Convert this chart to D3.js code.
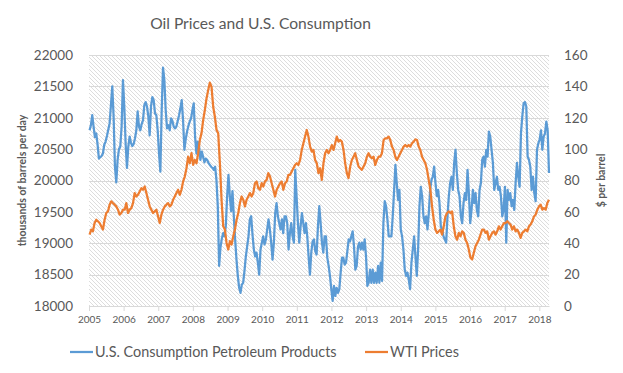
<!DOCTYPE html>
<html>
<head>
<meta charset="utf-8">
<script src="https://cdn.jsdelivr.net/npm/d3@7"></script>
<style>
  body { margin: 0; background: #fff; }
  svg text { font-family: Lato, "Liberation Sans", sans-serif; fill: #595959; }
</style>
</head>
<body>
<div id="chart"></div>
<script>
const yearLabels = d3.range(2005, 2019);
const leftTicks = d3.range(18000, 22001, 500);
const rightTicks = d3.range(0, 161, 20);

// U.S. consumption of petroleum products, thousand barrels per day
const consumption = [
  20800,20880,21040,20860,20690,20750,20570,20350,20370,20390,
  20430,20570,20620,20710,20810,20910,21200,21500,21020,20220,
  19970,20330,20500,20540,20860,21600,21180,20590,20200,20540,
  20700,20600,20550,20580,20670,20800,21100,20860,20800,20900,
  20960,21200,21250,21180,21020,20720,21180,21330,21280,21070,
  21040,20800,20430,20140,21120,21800,21600,21120,20830,20880,
  20800,20990,20950,20860,20830,20860,20950,21040,21150,21280,
  20960,20490,20660,20780,20870,20940,20990,21120,21230,20700,
  20430,20620,20540,20330,20460,20380,20290,20350,20330,20280,
  20250,20220,20200,20170,20220,20010,19590,18640,18930,19070,
  19160,19110,19270,19750,20090,19750,19510,19830,19430,19060,
  18740,18480,18290,18210,18340,18370,18560,18790,18950,19110,
  19380,19430,19140,18900,18790,18850,18690,18500,18900,19010,
  19110,18980,19060,19220,19380,19220,19010,18740,19010,19480,
  19640,19430,19320,19220,19380,19160,19430,19430,19320,18900,
  19160,19320,19110,19010,20170,19750,19320,19010,19270,19480,
  19320,19160,19320,19110,18790,18500,18850,19030,19060,18870,
  18820,19270,19590,19320,
  19010,18850,19110,19110,18770,18640,18480,18270,18080,18320,
  18160,18290,18210,18270,18530,18770,18770,18660,18690,18870,
  19060,19030,19110,19190,18950,18580,18640,18950,19010,18900,
  19010,18900,19060,18790,18320,18370,18580,18370,18580,18370,
  18530,18370,18640,18370,18690,18400,19320,19670,19590,19380,
  19110,19110,19110,19430,19830,20250,19960,19690,19850,19220,
  19110,18900,18580,18480,18530,18420,18270,18690,18900,19110,
  18790,18480,18900,19590,19900,19750,19430,19320,19430,19220,
  19480,19850,20010,20060,20220,19960,19750,19850,19640,19270,
  19220,19110,19060,19010,19430,19750,19960,20060,19850,20280,
  20490,20120,19850,19750,19430,19320,19640,19800,19690,20170,
  19800,19320,19530,19850,19640,19800,19530,19430,19850,19960,
  20330,20380,20220,20490,20380,20780,20700,20490,20280,19850,
  19960,20060,19850,19900,19750,19430,19530,19900,19010,19850,
  19690,19800,19590,19690,19530,19960,20280,20060,19900,20750,
  21020,21230,21250,21180,20380,20330,20220,19850,20060,19800,
  19670,20490,20590,20650,20800,20490,20700,20750,20940,20800,
  20120
];

// WTI spot price, $ per barrel
const wti = [
  45.5,48.7,47.6,52.9,55.0,54.0,52.9,50.8,48.7,55.0,
  59.3,60.3,64.6,66.7,65.6,64.6,63.5,61.4,58.2,59.3,
  61.4,61.4,65.6,59.3,61.4,62.4,65.6,72.0,69.8,70.9,
  73.0,75.1,74.1,76.2,72.0,67.7,63.5,61.4,59.3,60.3,
  61.4,57.1,52.9,58.2,61.4,63.5,64.6,65.6,63.5,64.6,
  67.7,69.8,72.0,74.1,70.9,74.1,79.4,82.5,87.8,95.2,
  91.0,97.4,90.0,93.1,91.0,97.4,105.8,110.1,118.5,124.9,
  132.3,137.6,142.4,139.7,127.0,120.6,112.2,110.1,91.0,67.7,
  50.8,48.7,40.2,36.0,41.3,39.2,44.4,48.7,55.0,59.3,
  65.6,69.8,67.7,63.5,67.7,69.8,72.0,69.8,72.0,78.3,
  79.4,75.1,74.1,78.3,76.2,79.4,80.4,84.7,82.5,78.3,
  74.1,69.8,74.1,76.2,78.3,79.4,74.1,78.3,79.4,83.6,
  83.6,85.7,87.8,89.9,91.0,89.9,93.1,99.5,103.7,108.0,
  112.2,108.0,101.6,98.4,99.5,93.1,91.0,84.7,87.8,
  80.4,91.0,97.4,99.5,97.4,99.5,102.6,99.5,103.7,108.0,
  104.8,105.8,104.8,99.5,91.0,84.7,81.5,88.9,93.1,95.2,
  97.4,93.1,88.9,87.8,86.8,88.9,91.0,95.2,97.4,95.2,
  94.2,95.2,89.9,93.1,95.2,95.2,97.4,105.8,106.9,106.9,
  108.0,105.8,101.6,99.5,95.2,93.1,95.2,97.4,99.5,101.6,
  102.6,101.6,102.6,101.6,103.7,104.8,106.2,105.8,101.6,99.5,
  95.2,93.1,91.0,86.8,80.4,74.1,63.5,55.0,48.7,46.6,
  47.6,48.7,45.5,50.8,57.1,59.3,60.3,59.3,60.3,50.8,
  44.4,42.3,46.6,44.4,47.6,46.6,42.3,40.2,36.0,30.7,
  29.6,33.9,38.1,40.2,42.3,45.5,48.7,48.7,46.6,47.6,
  42.3,44.4,46.6,47.6,45.5,47.6,50.8,48.7,50.8,52.9,
  52.9,54.0,52.9,51.9,48.7,50.8,47.6,48.7,46.6,43.4,
  46.6,47.6,48.7,47.6,50.8,51.9,54.0,57.1,58.2,61.4,
  63.5,64.6,61.4,62.4,61.4,65.6,67.7
];

const firstWeek = new Date(2005, 0, 7);
const lastWeek = new Date(2018, 3, 13);

function datesFor(n) {
  const step = (lastWeek - firstWeek) / (n - 1);
  return d3.range(n).map(i => new Date(+firstWeek + i * step));
}

const width = 623, height = 373;
const plot = { left: 89, right: 549, top: 55, bottom: 306 };

const svg = d3.select("#chart").append("svg")
  .attr("width", width)
  .attr("height", height);

const x = d3.scaleTime()
  .domain([new Date(2005, 0, 1), lastWeek])
  .range([plot.left, plot.right]);
const yLeft = d3.scaleLinear().domain([18000, 22000]).range([plot.bottom, plot.top]);
const yRight = d3.scaleLinear().domain([0, 160]).range([plot.bottom, plot.top]);

// hatched plot background
const pat = svg.append("defs").append("pattern")
  .attr("id", "hatch")
  .attr("patternUnits", "userSpaceOnUse")
  .attr("width", 4).attr("height", 4);
pat.append("rect").attr("width", 4).attr("height", 4).attr("fill", "#fff");
pat.selectAll("line")
  .data([[-1, -1, 5, 5], [-1, 3, 1, 5], [3, -1, 5, 1]])
  .enter().append("line")
  .attr("x1", d => d[0]).attr("y1", d => d[1])
  .attr("x2", d => d[2]).attr("y2", d => d[3])
  .attr("stroke", "#d4d4d4")
  .attr("stroke-width", 0.8);

svg.append("rect")
  .attr("x", plot.left).attr("y", plot.top)
  .attr("width", plot.right - plot.left)
  .attr("height", plot.bottom - plot.top)
  .attr("fill", "url(#hatch)");

// gridlines
svg.append("g").selectAll("line")
  .data(leftTicks)
  .enter().append("line")
  .attr("x1", plot.left).attr("x2", plot.right)
  .attr("y1", d => Math.round(yLeft(d)) + 0.5)
  .attr("y2", d => Math.round(yLeft(d)) + 0.5)
  .attr("stroke", "#d9d9d9")
  .attr("stroke-width", 1);

// axes
const xAxis = svg.append("g")
  .attr("transform", `translate(0,${plot.bottom})`)
  .call(d3.axisBottom(x)
    .tickValues(yearLabels.map(yr => new Date(yr, 0, 1)))
    .tickFormat(d3.timeFormat("%Y"))
    .tickSize(5)
    .tickSizeOuter(0)
    .tickPadding(5));
xAxis.select(".domain").attr("stroke", "#d9d9d9");
xAxis.selectAll(".tick line").attr("stroke", "#d9d9d9");
xAxis.selectAll("text").attr("font-size", 10).attr("fill", "#595959");

const leftAxis = svg.append("g")
  .attr("transform", `translate(${plot.left},0)`)
  .call(d3.axisLeft(yLeft).tickValues(leftTicks).tickFormat(d3.format("d"))
    .tickSize(0).tickPadding(16));
leftAxis.select(".domain").remove();
leftAxis.selectAll("text").attr("font-size", 13.5).attr("fill", "#595959");

const rightAxis = svg.append("g")
  .attr("transform", `translate(${plot.right},0)`)
  .call(d3.axisRight(yRight).tickValues(rightTicks).tickFormat(d3.format("d"))
    .tickSize(0).tickPadding(15));
rightAxis.select(".domain").remove();
rightAxis.selectAll("text").attr("font-size", 13.5).attr("fill", "#595959");

// series
const lineLeft = d3.line().x(d => x(d[0])).y(d => yLeft(d[1]));
const lineRight = d3.line().x(d => x(d[0])).y(d => yRight(d[1]));

const consDates = datesFor(consumption.length);
const wtiDates = datesFor(wti.length);

svg.append("path")
  .datum(consumption.map((v, i) => [consDates[i], v]))
  .attr("fill", "none")
  .attr("stroke", "#5b9bd5")
  .attr("stroke-width", 2.25)
  .attr("stroke-linejoin", "round")
  .attr("d", lineLeft);

svg.append("path")
  .datum(wti.map((v, i) => [wtiDates[i], v]))
  .attr("fill", "none")
  .attr("stroke", "#ed7d31")
  .attr("stroke-width", 2.25)
  .attr("stroke-linejoin", "round")
  .attr("d", lineRight);

// titles
svg.append("text")
  .attr("x", 260.5).attr("y", 29)
  .attr("text-anchor", "middle")
  .attr("font-size", 15.6)
  .text("Oil Prices and U.S. Consumption");

svg.append("text")
  .attr("transform", `translate(26,${(plot.top + plot.bottom) / 2}) rotate(-90)`)
  .attr("text-anchor", "middle")
  .attr("font-size", 10.5)
  .attr("font-weight", "bold")
  .text("thousands of barrels per day");

svg.append("text")
  .attr("transform", `translate(605,${(plot.top + plot.bottom) / 2}) rotate(-90)`)
  .attr("text-anchor", "middle")
  .attr("font-size", 10.5)
  .attr("font-weight", "bold")
  .text("$ per barrel");

// legend
const legendItems = [
  { label: "U.S. Consumption Petroleum Products", color: "#5b9bd5", x: 70 },
  { label: "WTI Prices", color: "#ed7d31", x: 365 }
];
const legend = svg.append("g").selectAll("g")
  .data(legendItems)
  .enter().append("g")
  .attr("transform", d => `translate(${d.x},352)`);
legend.append("line")
  .attr("x1", 0).attr("x2", 23)
  .attr("stroke", d => d.color)
  .attr("stroke-width", 2.25);
legend.append("text")
  .attr("x", 25).attr("dy", "0.35em")
  .attr("font-size", 14.4)
  .text(d => d.label);
</script>
</body>
</html>
